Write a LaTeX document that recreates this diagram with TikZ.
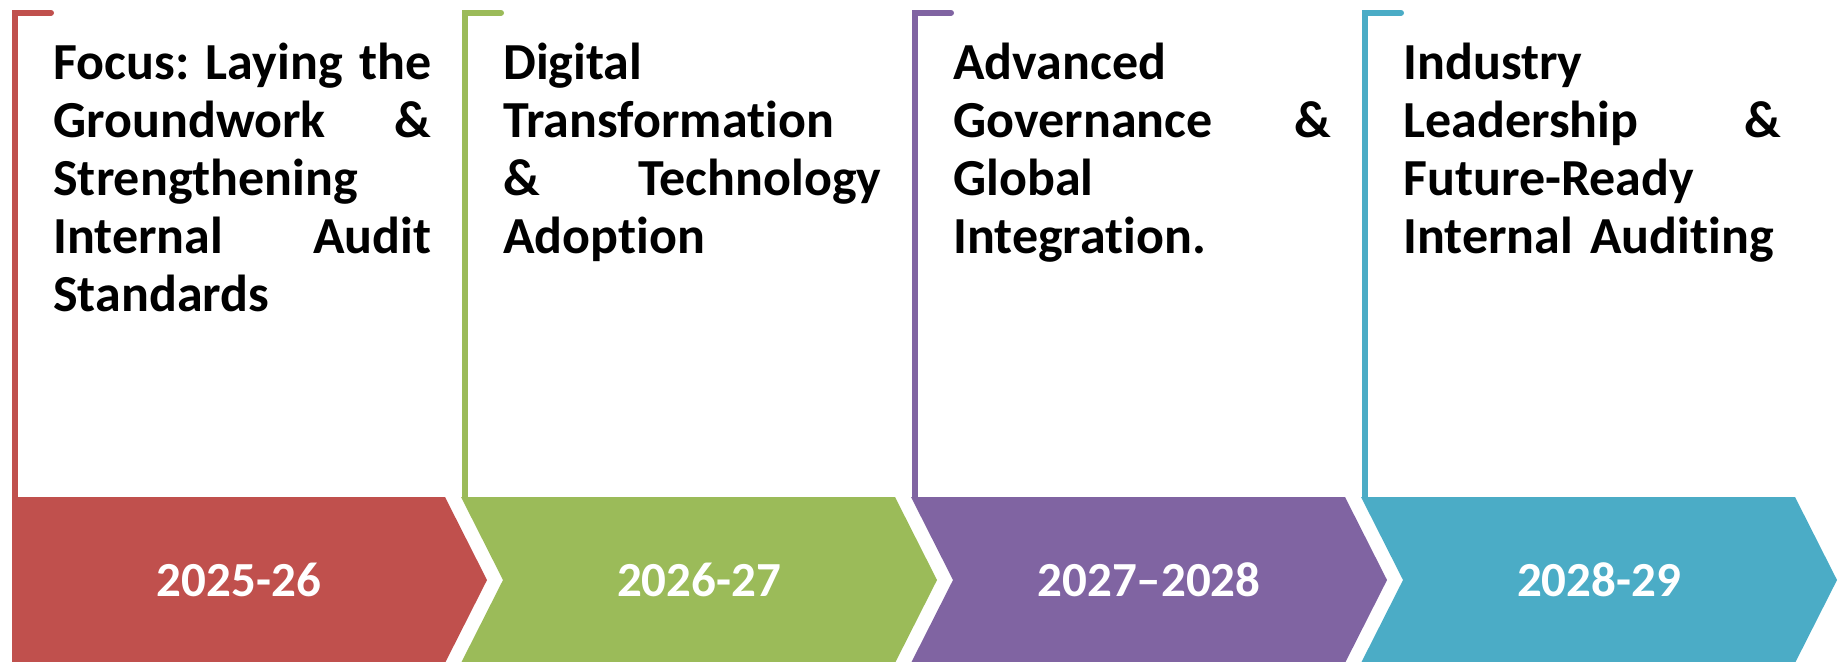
\documentclass[tikz,border=0pt]{standalone}
\usepackage{fontspec}
\setmainfont[Ligatures=NoCommon]{Carlito}

\definecolor{phaseA}{HTML}{C0504D}
\definecolor{phaseB}{HTML}{9BBB59}
\definecolor{phaseC}{HTML}{8064A2}
\definecolor{phaseD}{HTML}{4BACC6}

\tikzset{
  bracket/.style={draw=#1, line width=3pt, line cap=round, line join=miter},
  chevron/.style={fill=#1, draw=none},
  topic/.style={anchor=base west, inner sep=0pt, text width=189pt, align=left,
    font=\bfseries\fontsize{26}{29}\selectfont},
  year/.style={inner sep=0pt, text=white, font=\bfseries\fontsize{24.5}{29}\selectfont}
}

\begin{document}
\begin{tikzpicture}[x=0.5pt,y=-0.5pt]
    \useasboundingbox (0,0) rectangle (1845,661);
    % brackets above each phase
    \draw[bracket=phaseA] (15,497) -- (15,12.8) -- (51,12.8);
    \draw[bracket=phaseB] (465,497) -- (465,12.8) -- (501,12.8);
    \draw[bracket=phaseC] (915,497) -- (915,12.8) -- (951,12.8);
    \draw[bracket=phaseD] (1365,497) -- (1365,12.8) -- (1401,12.8);
    % chevrons
    \fill[chevron=phaseA] (12,497) -- (445,497) -- (487,580) -- (445,663) -- (12,663) -- cycle;
    \fill[chevron=phaseB] (461,497) -- (895,497) -- (937,580) -- (895,663) -- (461,663) -- (503,580) -- cycle;
    \fill[chevron=phaseC] (911,497) -- (1345,497) -- (1387,580) -- (1345,663) -- (911,663) -- (953,580) -- cycle;
    \fill[chevron=phaseD] (1361,497) -- (1795,497) -- (1837,580) -- (1795,663) -- (1361,663) -- (1403,580) -- cycle;
    % years
    \node[year] (y1) at (239,580) {2025-26};
    \node[year] (y2) at (699,580) {2026-27};
    \node[year] (y3) at (1149,580) {2027--2028};
    \node[year] (y4) at (1599,580) {2028-29};
    % focus of each phase
    \node[topic] (t1) at (53,79) {Focus:\hfill Laying\hfill the\\ Groundwork\hfill\&\\ Strengthening\\ Internal\hfill Audit\\ Standards};
    \node[topic] (t2) at (503,79) {Digital\\ Transformation\\ \&\hfill Technology\\ Adoption};
    \node[topic] (t3) at (953,79) {Advanced\\ Governance\hfill\&\\ Global\\ Integration.};
    \node[topic] (t4) at (1403,79) {Industry\\ Leadership\hfill\&\\ Future-Ready\\ Internal Auditing};
\end{tikzpicture}
\end{document}
